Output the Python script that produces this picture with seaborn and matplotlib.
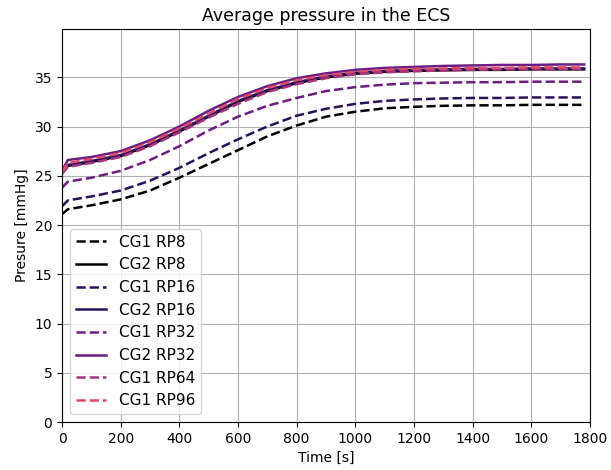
import numpy as np
import pandas as pd
import seaborn as sns
import matplotlib.pyplot as plt

# time points (s)
time = [0, 20, 100, 200, 300, 400, 500, 600, 700, 800, 900, 1000,
        1100, 1200, 1300, 1400, 1500, 1600, 1700, 1780]

# average pressure (mmHg)
cg1_rp8 = [21.1, 21.6, 22.0, 22.6, 23.5, 24.8, 26.2, 27.6, 29.0, 30.1, 31.0, 31.5,
           31.85, 32.0, 32.1, 32.15, 32.15, 32.2, 32.2, 32.2]
cg2_rp8 = [25.3, 26.0, 26.4, 27.0, 28.1, 29.5, 31.0, 32.5, 33.6, 34.4, 35.0, 35.35,
           35.55, 35.65, 35.7, 35.75, 35.75, 35.8, 35.8, 35.8]
cg1_rp16 = [21.9, 22.5, 22.9, 23.5, 24.5, 25.8, 27.3, 28.7, 30.0, 31.1, 31.8, 32.3,
            32.6, 32.75, 32.85, 32.9, 32.9, 32.95, 32.95, 32.95]
cg2_rp16 = [25.4, 26.1, 26.5, 27.1, 28.2, 29.6, 31.1, 32.6, 33.7, 34.5, 35.1, 35.45,
            35.65, 35.75, 35.8, 35.85, 35.85, 35.9, 35.9, 35.9]
cg1_rp32 = [23.8, 24.4, 24.8, 25.5, 26.6, 28.0, 29.6, 31.0, 32.1, 32.9, 33.6, 34.0,
            34.25, 34.4, 34.45, 34.5, 34.5, 34.55, 34.55, 34.55]
cg2_rp32 = [25.5, 26.6, 26.9, 27.5, 28.6, 30.0, 31.6, 33.0, 34.1, 34.9, 35.4, 35.75,
            35.95, 36.05, 36.15, 36.2, 36.25, 36.25, 36.3, 36.3]
cg1_rp64 = [25.2, 25.9, 26.3, 26.9, 28.0, 29.4, 30.9, 32.3, 33.5, 34.3, 34.9, 35.3,
            35.5, 35.6, 35.7, 35.75, 35.8, 35.8, 35.85, 35.85]
cg1_rp96 = [25.4, 26.3, 26.7, 27.3, 28.4, 29.8, 31.3, 32.8, 33.9, 34.7, 35.2, 35.55,
            35.75, 35.85, 35.9, 35.95, 35.95, 36.0, 36.0, 36.0]

labels = ['CG1 RP8', 'CG2 RP8', 'CG1 RP16', 'CG2 RP16',
          'CG1 RP32', 'CG2 RP32', 'CG1 RP64', 'CG1 RP96']
series = [cg1_rp8, cg2_rp8, cg1_rp16, cg2_rp16, cg1_rp32, cg2_rp32, cg1_rp64, cg1_rp96]

cmap = plt.get_cmap('magma')
col = {'RP8': cmap(0.0), 'RP16': cmap(0.16), 'RP32': cmap(0.32),
       'RP64': cmap(0.47), 'RP96': cmap(0.6)}

fig = plt.figure(figsize=(6.11, 4.70), dpi=100)
ax = fig.add_axes([0.1015, 0.1021, 0.8641, 0.8362])

for lab, vals in zip(labels, series):
    cg, rp = lab.split()
    df = pd.DataFrame({'Time': time, 'Pressure': vals})
    sns.lineplot(data=df, x='Time', y='Pressure', ax=ax, color=col[rp],
                 linestyle='--' if cg == 'CG1' else '-', linewidth=1.8, label=lab)

ax.set_xlim(0, 1800)
ax.set_ylim(0, 39.9)
ax.set_xticks(np.arange(0, 1801, 200))
ax.set_yticks(np.arange(0, 36, 5))
ax.set_title('Average pressure in the ECS', fontsize=12.5)
ax.set_xlabel('Time [s]')
ax.set_ylabel('Presure [mmHg]')
ax.grid(True, color='#b0b0b0', linewidth=0.8)
ax.legend(loc='lower left', fontsize=11)

plt.savefig('out.png')
